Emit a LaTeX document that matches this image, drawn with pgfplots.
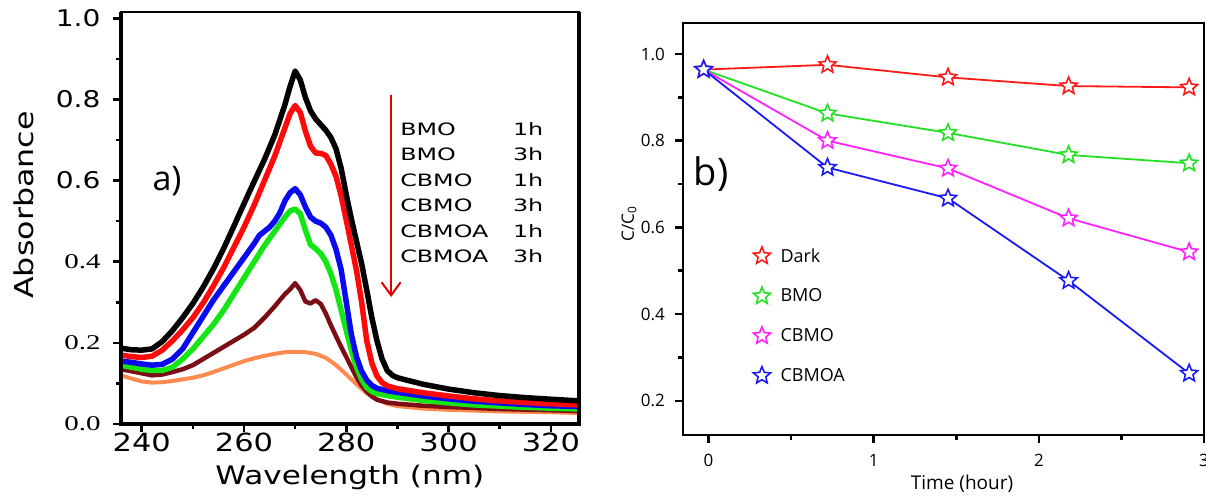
\documentclass[border=0pt]{standalone}
\usepackage{fontspec}
\usepackage{pgfplots}
\pgfplotsset{compat=1.18}
\usetikzlibrary{arrows.meta}
\setmainfont{Open Sans}
\newfontfamily\lsans[FakeStretch=1.22]{DejaVu Sans}
\newfontfamily\llegend[FakeStretch=1.4]{DejaVu Sans}
\newfontfamily\lserif[FakeStretch=1.38]{Liberation Serif}
\definecolor{cblack}{HTML}{000000}
\definecolor{cred}{HTML}{FF0A0A}
\definecolor{cblue}{HTML}{0A0AF0}
\definecolor{cgreen}{HTML}{14E614}
\definecolor{cmaroon}{HTML}{7B0D14}
\definecolor{corange}{HTML}{FF8A50}
\definecolor{rdark}{HTML}{FF1A1A}
\definecolor{rbmo}{HTML}{22E022}
\definecolor{rcbmo}{HTML}{FF22FF}
\definecolor{rcbmoa}{HTML}{1A1AF5}
\pgfdeclareplotmark{ostar}{%
  \pgfpathmoveto{\pgfqpoint{0pt}{\pgfplotmarksize}}%
  \pgfpathlineto{\pgfqpoint{-0.2645\pgfplotmarksize}{0.3641\pgfplotmarksize}}%
  \pgfpathlineto{\pgfqpoint{-0.9511\pgfplotmarksize}{0.3090\pgfplotmarksize}}%
  \pgfpathlineto{\pgfqpoint{-0.4280\pgfplotmarksize}{-0.1391\pgfplotmarksize}}%
  \pgfpathlineto{\pgfqpoint{-0.5878\pgfplotmarksize}{-0.8090\pgfplotmarksize}}%
  \pgfpathlineto{\pgfqpoint{0pt}{-0.45\pgfplotmarksize}}%
  \pgfpathlineto{\pgfqpoint{0.5878\pgfplotmarksize}{-0.8090\pgfplotmarksize}}%
  \pgfpathlineto{\pgfqpoint{0.4280\pgfplotmarksize}{-0.1391\pgfplotmarksize}}%
  \pgfpathlineto{\pgfqpoint{0.9511\pgfplotmarksize}{0.3090\pgfplotmarksize}}%
  \pgfpathlineto{\pgfqpoint{0.2645\pgfplotmarksize}{0.3641\pgfplotmarksize}}%
  \pgfpathclose
  \pgfusepathqfillstroke}
\begin{document}
\begin{tikzpicture}
\useasboundingbox (0pt,0pt) rectangle (1206pt,497pt);
% ---------------- panel a ----------------
\begin{axis}[
  at={(120.7pt,73pt)}, anchor=south west, scale only axis,
  width=458.3pt, height=412pt,
  xmin=235.89, xmax=325.5, ymin=0, ymax=1.0155,
  clip mode=individual,
  axis line style={line width=1.2pt},
  xtick={240,260,280,300,320}, minor xtick={250,270,290,310},
  ytick={0,0.2,0.4,0.6,0.8,1.0}, minor ytick={0.1,0.3,0.5,0.7,0.9},
  xticklabels={240,260,280,300,320},
  yticklabels={{\lserif\fontsize{21}{21}\selectfont 0.0},{\lserif\fontsize{21}{21}\selectfont 0.2},{\lserif\fontsize{21}{21}\selectfont 0.4},{\lsans\fontsize{23}{23}\selectfont 0.6},{\lsans\fontsize{23}{23}\selectfont 0.8},{\lsans\fontsize{23}{23}\selectfont 1.0}},
  tick align=outside, xtick pos=bottom, ytick pos=left,
  major tick length=8pt, minor tick length=5pt,
  every tick/.style={black, line width=2.5pt},
  xticklabel style={font=\lsans\fontsize{25}{25}\selectfont, anchor=center, inner sep=0pt, yshift=-10pt},
  yticklabel style={anchor=east, inner sep=0pt, xshift=-12pt},
  xlabel={Wavelength (nm)},
  xlabel style={font=\lsans\fontsize{25.5}{25.5}\selectfont, at={(axis description cs:0.5,-0.148)}, anchor=base, inner sep=0pt},
]
\addplot[corange, line width=4pt, line join=round] coordinates {
(235.9,0.120) (238,0.112) (240,0.105) (242,0.102) (244,0.103) (246,0.106) (248,0.110) (250,0.114) (252,0.120) (254,0.128) (256,0.137) (258,0.146) (260,0.155) (262,0.162) (264,0.168) (266,0.173) (268,0.177) (270,0.178) (272,0.177) (274,0.173) (276,0.163) (278,0.145) (280,0.122) (282,0.098) (284,0.076) (286,0.060) (288,0.050) (290,0.044) (295,0.038) (300,0.035) (310,0.031) (320,0.029) (325.5,0.027)};
\addplot[cmaroon, line width=4.5pt, line join=round] coordinates {
(235.9,0.135) (238,0.130) (240,0.125) (242,0.120) (244,0.122) (246,0.128) (248,0.135) (250,0.145) (252,0.160) (254,0.175) (256,0.190) (258,0.205) (260,0.220) (262,0.237) (264,0.262) (266,0.290) (268,0.320) (269,0.332) (270,0.347) (271,0.330) (272,0.302) (273,0.297) (274,0.305) (275,0.296) (276,0.272) (277,0.243) (278,0.216) (279,0.190) (280,0.165) (281,0.140) (282,0.115) (283,0.095) (284,0.080) (285,0.068) (286,0.060) (288,0.053) (290,0.050) (295,0.045) (300,0.042) (310,0.037) (320,0.034) (325.5,0.032)};
\addplot[cgreen, line width=5.5pt, line join=round] coordinates {
(235.9,0.145) (238,0.140) (240,0.135) (242,0.132) (244,0.132) (246,0.140) (248,0.160) (250,0.185) (252,0.215) (254,0.245) (256,0.280) (258,0.320) (260,0.360) (262,0.400) (264,0.440) (266,0.475) (268,0.510) (269,0.525) (270,0.530) (271,0.518) (272,0.478) (273,0.442) (274,0.432) (275,0.420) (276,0.400) (277,0.370) (278,0.330) (279,0.280) (280,0.230) (281,0.180) (282,0.140) (283,0.110) (284,0.090) (285,0.080) (286,0.075) (288,0.070) (290,0.066) (295,0.058) (300,0.052) (305,0.047) (310,0.044) (315,0.041) (320,0.039) (325.5,0.037)};
\addplot[cblue, line width=5.5pt, line join=round] coordinates {
(235.9,0.155) (238,0.152) (240,0.148) (242,0.145) (244,0.147) (246,0.160) (248,0.185) (250,0.225) (252,0.265) (254,0.305) (256,0.340) (258,0.375) (260,0.410) (262,0.445) (263,0.465) (264,0.475) (265,0.485) (266,0.500) (267,0.520) (268,0.550) (269,0.570) (270,0.580) (271,0.565) (272,0.535) (273,0.510) (274,0.500) (275,0.495) (276,0.485) (277,0.465) (278,0.430) (279,0.380) (280,0.300) (281,0.220) (282,0.165) (283,0.130) (284,0.108) (285,0.095) (286,0.088) (288,0.082) (290,0.078) (295,0.069) (300,0.062) (305,0.056) (310,0.052) (315,0.048) (320,0.045) (325.5,0.043)};
\addplot[cred, line width=5.5pt, line join=round] coordinates {
(235.9,0.170) (238,0.166) (240,0.164) (242,0.167) (244,0.182) (246,0.205) (248,0.232) (250,0.262) (252,0.298) (254,0.340) (256,0.385) (258,0.435) (260,0.485) (262,0.540) (264,0.600) (266,0.660) (268,0.730) (269,0.765) (270,0.785) (271,0.768) (272,0.722) (273,0.685) (274,0.668) (275,0.667) (276,0.662) (277,0.640) (278,0.610) (279,0.562) (280,0.502) (281,0.440) (282,0.378) (283,0.300) (284,0.205) (285,0.150) (286,0.118) (287,0.102) (288,0.094) (290,0.087) (295,0.077) (300,0.069) (305,0.062) (310,0.057) (315,0.053) (320,0.050) (325.5,0.047)};
\addplot[cblack, line width=5.5pt, line join=round] coordinates {
(235.9,0.187) (238,0.183) (240,0.182) (242,0.185) (244,0.203) (246,0.230) (248,0.262) (250,0.297) (252,0.337) (254,0.382) (256,0.432) (258,0.487) (260,0.543) (262,0.598) (264,0.652) (266,0.712) (268,0.787) (269,0.832) (270,0.870) (271,0.848) (272,0.805) (273,0.772) (274,0.752) (275,0.738) (276,0.724) (277,0.706) (278,0.678) (279,0.630) (280,0.565) (281,0.505) (282,0.450) (283,0.395) (284,0.330) (285,0.262) (286,0.205) (287,0.160) (288,0.132) (289,0.120) (290,0.114) (295,0.098) (300,0.086) (305,0.077) (310,0.070) (315,0.065) (320,0.061) (325.5,0.057)};
\draw[line width=4pt] (rel axis cs:0,1) -- (rel axis cs:0,0) -- (rel axis cs:1,0) -- (rel axis cs:1,1);
\draw[red!90!black, line width=2pt, -{Straight Barb[length=13pt,width=19pt,line width=2pt]}] (axis cs:288.76,0.811) -- (axis cs:288.76,0.313);
\node[font=\fontsize{34}{34}\selectfont, anchor=center] at (axis cs:244.95,0.599) {a)};
\node[font=\lsans\fontsize{26}{26}\selectfont, rotate=90, anchor=base, inner sep=0pt] at (axis description cs:-0.1907,0.5316) {Absorbance};
\begin{scope}[every node/.style={font=\llegend\fontsize{17}{17}\selectfont, anchor=west, inner sep=0pt}]
\node at (axis cs:290.52,0.7271) {BMO};   \node at (axis cs:312.56,0.7271) {1h};
\node at (axis cs:290.52,0.6643) {BMO};   \node at (axis cs:312.56,0.6643) {3h};
\node at (axis cs:290.52,0.6014) {CBMO};  \node at (axis cs:312.56,0.6014) {1h};
\node at (axis cs:290.52,0.5386) {CBMO};  \node at (axis cs:312.56,0.5386) {3h};
\node at (axis cs:290.52,0.4757) {CBMOA}; \node at (axis cs:312.56,0.4757) {1h};
\node at (axis cs:290.52,0.4129) {CBMOA}; \node at (axis cs:312.56,0.4129) {3h};
\end{scope}
\end{axis}
% ---------------- panel b ----------------
\begin{axis}[
  at={(683pt,62pt)}, anchor=south west, scale only axis,
  width=521pt, height=412pt,
  xmin=-0.155, xmax=3.0, ymin=0.121, ymax=1.0715,
  clip mode=individual,
  axis line style={line width=2.8pt},
  xtick={0,1,2,3}, minor xtick={0.5,1.5,2.5},
  ytick={0.2,0.4,0.6,0.8,1.0}, minor ytick={0.3,0.5,0.7,0.9},
  xticklabels={0,1,2,3}, yticklabels={0.2,0.4,0.6,0.8,1.0},
  tick align=outside, xtick pos=bottom, ytick pos=left,
  major tick length=8pt, minor tick length=5pt,
  every tick/.style={black, line width=2.5pt},
  xticklabel style={font=\fontsize{17}{17}\selectfont, anchor=center, inner sep=0pt, yshift=-17pt},
  yticklabel style={font=\fontsize{17}{17}\selectfont, anchor=east, inner sep=0pt, xshift=-10pt},
  xlabel={Time (hour)},
  xlabel style={font=\fontsize{19}{19}\selectfont, at={(axis description cs:0.5355,-0.119)}, anchor=center, inner sep=0pt},
  ylabel={C/C\textsubscript{0}},
  ylabel style={font=\fontsize{17}{17}\selectfont, at={(axis description cs:-0.1036,0.512)}, anchor=center, inner sep=0pt},
  mark size=9pt,
  legend cell align=left,
  legend image code/.code={\draw[#1, only marks] plot coordinates {(0pt,0pt)};},
  legend style={at={(rel axis cs:0.1351,0.4563)}, anchor=north west, draw=none, fill=none, inner sep=0pt, outer sep=0pt, row sep=23.5pt, font=\fontsize{18}{18}\selectfont, nodes={inner sep=0pt},
    /tikz/every odd column/.append style={column sep=10pt}},
]
\addplot[rdark, line width=1.8pt, mark=ostar, mark options={solid, fill=white, line width=1.6pt}] coordinates {(-0.03,0.964) (0.72,0.975) (1.45,0.946) (2.18,0.926) (2.91,0.923)};
\addlegendentry{Dark}
\addplot[rbmo, line width=1.8pt, mark=ostar, mark options={solid, fill=white, line width=1.6pt}] coordinates {(-0.03,0.964) (0.72,0.863) (1.45,0.818) (2.18,0.767) (2.91,0.748)};
\addlegendentry{BMO}
\addplot[rcbmo, line width=1.8pt, mark=ostar, mark options={solid, fill=white, line width=1.6pt}] coordinates {(-0.03,0.964) (0.72,0.800) (1.45,0.736) (2.18,0.621) (2.91,0.543)};
\addlegendentry{CBMO}
\addplot[rcbmoa, line width=1.8pt, mark=ostar, mark options={solid, fill=white, line width=1.6pt}] coordinates {(-0.03,0.964) (0.72,0.738) (1.45,0.667) (2.18,0.477) (2.91,0.263)};
\addlegendentry{CBMOA}
\node[font=\fontsize{38}{38}\selectfont, anchor=center] at (axis cs:0.0145,0.7231) {b)};
\end{axis}
\end{tikzpicture}
\end{document}
